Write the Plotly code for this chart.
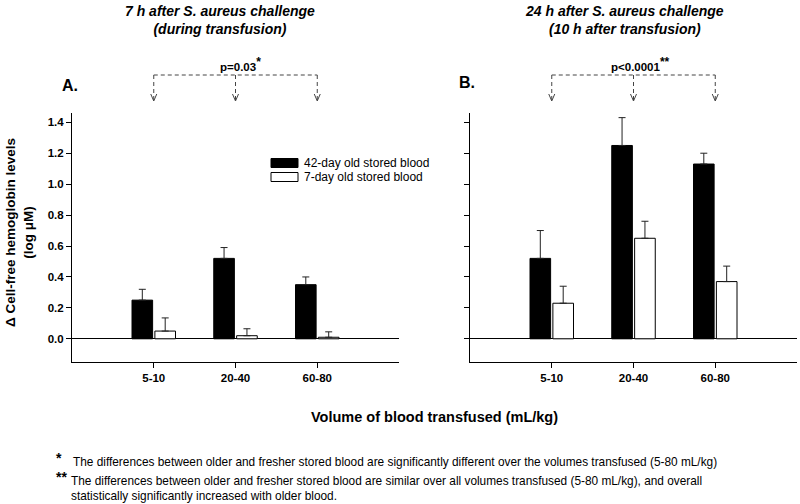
import plotly.graph_objects as go

# ---------------- data ----------------
categories = ["5-10", "20-40", "60-80"]
series_names = ["42-day old stored blood", "7-day old stored blood"]

# Panel A: 7 h after challenge
a_old = [0.25, 0.52, 0.35]
a_old_err = [0.07, 0.07, 0.05]
a_new = [0.05, 0.02, 0.01]
a_new_err = [0.085, 0.045, 0.035]

# Panel B: 24 h after challenge
b_old = [0.52, 1.25, 1.13]
b_old_err = [0.18, 0.18, 0.07]
b_new = [0.23, 0.65, 0.37]
b_new_err = [0.11, 0.11, 0.10]

y_ticks = [0.0, 0.2, 0.4, 0.6, 0.8, 1.0, 1.2, 1.4]

titles = ["<i>7 h after S. aureus challenge<br>(during transfusion)</i>",
          "<i>24 h after S. aureus challenge<br>(10 h after transfusion)</i>"]
pvals = ["p=0.03", "p<0.0001"]
pstars = ["*", "**"]
panel_labels = ["A.", "B."]
x_title = "Volume of blood transfused (mL/kg)"
y_title = "Δ Cell-free hemoglobin levels<br>(log μM)"
footnote1 = "The differences between older and fresher stored blood are significantly different over the volumes transfused (5-80 mL/kg)"
footnote2 = ("The differences between older and fresher stored blood are similar over all volumes transfused (5-80 mL/kg), and overall"
             "<br>statistically significantly increased with older blood.")

FONT = "Liberation Sans, Arial, sans-serif"
W, H = 800, 504


def px(x):
    return x / W


def py(y):
    return 1 - y / H


fig = go.Figure()

panels = [
    ("x", "y", a_old, a_old_err, a_new, a_new_err),
    ("x2", "y2", b_old, b_old_err, b_new, b_new_err),
]
for xa, ya, old, old_err, new, new_err in panels:
    fig.add_trace(go.Bar(
        x=categories, y=old, name=series_names[0], xaxis=xa, yaxis=ya,
        marker=dict(color="black", line=dict(color="black", width=1)),
        error_y=dict(type="data", symmetric=False, array=old_err,
                     arrayminus=[0] * len(old), color="#222", thickness=1, width=3.5),
        offsetgroup="old", showlegend=False))
    fig.add_trace(go.Bar(
        x=categories, y=new, name=series_names[1], xaxis=xa, yaxis=ya,
        marker=dict(color="white", line=dict(color="black", width=1)),
        error_y=dict(type="data", symmetric=False, array=new_err,
                     arrayminus=[0] * len(new), color="#222", thickness=1, width=3.5),
        offsetgroup="new", showlegend=False))

xaxis_common = dict(type="category", range=[-1, 3], showline=True, linecolor="black",
                    linewidth=1, ticks="outside", ticklen=5, tickcolor="black",
                    showgrid=False, zeroline=False,
                    tickfont=dict(family=FONT, size=11.5, color="black", weight="bold"))
yaxis_common = dict(range=[-0.15, 1.46], showline=True, linecolor="black", linewidth=1,
                    ticks="outside", ticklen=5, tickcolor="black", showgrid=False,
                    zeroline=True, zerolinecolor="black", zerolinewidth=1,
                    tickvals=y_ticks, tickformat=".1f",
                    tickfont=dict(family=FONT, size=11.5, color="black", weight="bold"))

fig.update_layout(
    width=W, height=H,
    margin=dict(l=0, r=0, t=0, b=0),
    paper_bgcolor="white", plot_bgcolor="white",
    barmode="group", bargap=0.44, bargroupgap=0.1,
    font=dict(family=FONT, color="black"),
    xaxis=dict(domain=[px(72), px(399)], anchor="y", **xaxis_common),
    yaxis=dict(domain=[py(362), py(113)], anchor="x", showticklabels=True, **yaxis_common),
    xaxis2=dict(domain=[px(470), px(797)], anchor="y2", **xaxis_common),
    yaxis2=dict(domain=[py(362), py(113)], anchor="x2", showticklabels=False, **yaxis_common),
)

annotations = []
shapes = []

# Titles, panel labels, p values, brackets
title_x = [220, 624]
label_pos = [(70, 85), (467, 83)]
p_x = [240, 640]
for i, xr in enumerate(["x", "x2"]):
    annotations.append(dict(text=f"<b>{titles[i]}</b>", x=px(title_x[i]), y=py(20.5),
                            xref="paper", yref="paper", showarrow=False,
                            xanchor="center", yanchor="middle",
                            font=dict(family=FONT, size=14, color="black")))
    annotations.append(dict(text=f"<b>{panel_labels[i]}</b>", x=px(label_pos[i][0]),
                            y=py(label_pos[i][1]), xref="paper", yref="paper",
                            showarrow=False, xanchor="center", yanchor="middle",
                            font=dict(family=FONT, size=16, color="black")))
    annotations.append(dict(
        text=f"<b>{pvals[i]}<sup><span style='font-size:12px'>{pstars[i]}</span></sup></b>",
        x=px(p_x[i]), y=py(64), xref="paper", yref="paper", showarrow=False,
        xanchor="center", yanchor="middle",
        font=dict(family=FONT, size=11.5, color="black")))
    dash = dict(color="#444", width=1, dash="4px,3px")
    shapes.append(dict(type="line", xref=xr, yref="paper", x0=0, x1=len(categories) - 1,
                       y0=py(75), y1=py(75), line=dash))
    for k in range(len(categories)):
        shapes.append(dict(type="line", xref=xr, yref="paper", x0=k, x1=k,
                           y0=py(75), y1=py(101), line=dash))
        shapes.append(dict(type="path", xref=xr, yref="paper", xsizemode="pixel",
                           ysizemode="pixel", xanchor=k, yanchor=py(101),
                           path="M -3,7 L 0,0 L 3,7",
                           line=dict(color="#444", width=1)))

# Legend (manual)
leg_y = [163, 177]
leg_fill = ["black", "white"]
for j in range(2):
    shapes.append(dict(type="rect", xref="paper", yref="paper",
                       x0=px(271), x1=px(298), y0=py(leg_y[j] - 4.5), y1=py(leg_y[j] + 4.5),
                       fillcolor=leg_fill[j], line=dict(color="black", width=1)))
    annotations.append(dict(text=series_names[j], x=px(302), y=py(leg_y[j]),
                            xref="paper", yref="paper", showarrow=False,
                            xanchor="left", yanchor="middle",
                            font=dict(family=FONT, size=12, color="black")))

# Axis titles
annotations.append(dict(text=f"<b>{x_title}</b>", x=px(435), y=py(417), xref="paper",
                        yref="paper", showarrow=False, xanchor="center", yanchor="middle",
                        font=dict(family=FONT, size=14.5, color="black")))
annotations.append(dict(text=f"<b>{y_title}</b>", x=px(19), y=py(233), xref="paper",
                        yref="paper", showarrow=False, xanchor="center", yanchor="middle",
                        textangle=-90,
                        font=dict(family=FONT, size=13.5, color="black")))

# Footnotes
annotations.append(dict(text="<b>*</b>", x=px(54), y=py(458), xref="paper", yref="paper",
                        showarrow=False, xanchor="left", yanchor="middle",
                        font=dict(family=FONT, size=14, color="black")))
annotations.append(dict(text=footnote1, x=px(71), y=py(462), xref="paper", yref="paper",
                        showarrow=False, xanchor="left", yanchor="middle",
                        font=dict(family=FONT, size=11.85, color="black")))
annotations.append(dict(text="<b>**</b>", x=px(54), y=py(477), xref="paper", yref="paper",
                        showarrow=False, xanchor="left", yanchor="middle",
                        font=dict(family=FONT, size=14, color="black")))
annotations.append(dict(text=footnote2, x=px(69), y=py(488), xref="paper", yref="paper",
                        showarrow=False, xanchor="left", yanchor="middle", align="left",
                        font=dict(family=FONT, size=11.85, color="black")))

fig.update_layout(annotations=annotations, shapes=shapes)
fig.write_html("out.html", config={"displayModeBar": False},
               post_script="document.body.style.margin='0';")
